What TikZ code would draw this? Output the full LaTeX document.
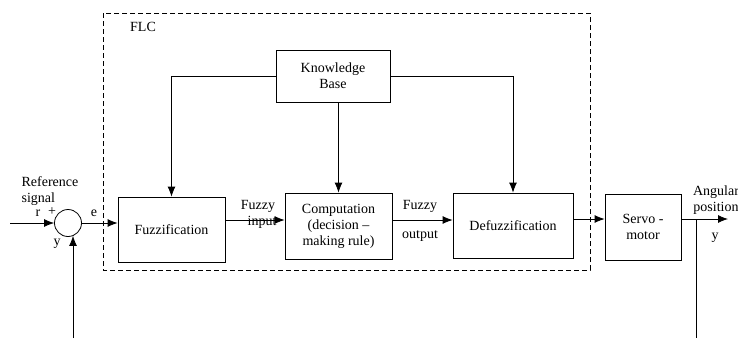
\documentclass[tikz,border=0pt]{standalone}
\usepackage{fontspec}
\setmainfont{Liberation Serif}
\newfontfamily\diagfont[Ligatures=TeX]{Liberation Serif}
\usetikzlibrary{arrows.meta, positioning}

\begin{document}
\begin{tikzpicture}[x=1pt, y=-1pt, line width=0.8pt,
    >={Latex[length=10pt,width=8pt]},
    font=\diagfont\fontsize{14}{16}\selectfont,
    block/.style={draw, align=center, inner sep=0pt},
    lbl/.style={inner sep=0pt, align=center}]

        \useasboundingbox (0,0) rectangle (738,338);

        % controller frame
        \draw[dash pattern=on 5pt off 3pt] (103,13) rectangle (590,270);
        \node[lbl] (flc) at (143,27) {FLC};

        \node[block, minimum width=114pt, minimum height=52pt] (kb) at (333,76) {Knowledge\\Base};
        \node[block, minimum width=107pt, minimum height=65pt] (fuzz) at (171.5,229.5) {Fuzzification};
        \node[block, minimum width=107pt, minimum height=66pt] (comp) at (338.5,226) {Computation\\(decision \textendash\\making rule)};
        \node[block, minimum width=120pt, minimum height=65pt] (defuzz) at (513,225.5) {Defuzzification};
        \node[block, minimum width=76pt, minimum height=66pt] (servo) at (643,227) {Servo -\\motor};
        \node[draw, circle, minimum size=27pt, inner sep=0pt] (sum) at (68,223) {};

        % connectors
        \coordinate (ref) at (10,223);
        \coordinate (fo) at ([yshift=9.5pt]fuzz.east);
        \coordinate (co) at ([yshift=6pt]comp.east);
        \coordinate (do) at ([yshift=6.5pt]defuzz.east);
        \coordinate (so) at ([yshift=8pt]servo.east);
        \coordinate (out) at (728,219);
        \coordinate (br) at (696,219);
        \coordinate (fbend) at (696,338);
        \coordinate (fbstart) at (73,338);

        \draw[->] (ref) -- (sum.west);
        \draw[->] (sum.east) -- (sum.east -| fuzz.west);
        \draw[->] (fo) -- (fo -| comp.west);
        \draw[->] (co) -- (co -| defuzz.west);
        \draw[->] (do) -- (do -| servo.west);
        \draw[->] (so) -- (out);
        \draw (br) -- (fbend);
        \draw[->] (fbstart) -- (fbstart |- sum.-68);

        \draw[->] (kb.west) -| (fuzz.north);
        \draw[->] (comp.north |- kb.south) -- (comp.north);
        \draw[->] (kb.east) -| (defuzz.north);

        % signal labels
        \node[lbl, align=left] (refsig) at (50,191) {Reference\\signal};
        \node[lbl] (r) at (38,213) {r};
        \node[lbl] (plus) at (52,212) {+};
        \node[lbl] (yin) at (57,244) {y};
        \node[lbl] (e) at (94,213) {e};
        \node[lbl] (fin1) at (258,206) {Fuzzy};
        \node[lbl] (fin2) at (262,222) {input};
        \node[lbl] (fout1) at (420,206) {Fuzzy};
        \node[lbl] (fout2) at (420,236) {output};
        \node[lbl] (ang) at (716,200) {Angular\\position};
        \node[lbl] (yout) at (715,238) {y};
\end{tikzpicture}
\end{document}
